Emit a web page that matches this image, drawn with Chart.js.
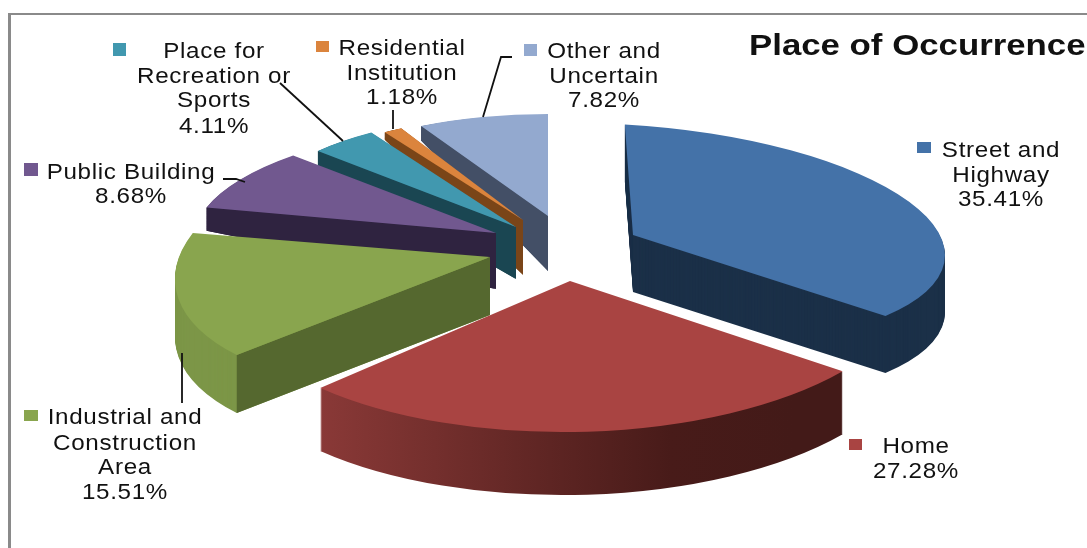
<!DOCTYPE html>
<html><head><meta charset="utf-8">
<style>html,body{margin:0;padding:0;background:#fff;overflow:hidden}canvas{display:block}</style>
<script src="https://cdn.jsdelivr.net/npm/chart.js@4"></script>
</head><body>
<canvas id="c" width="1087" height="548"></canvas>
<script>
const categories = ["Street and Highway","Home","Industrial and Construction Area","Public Building","Place for Recreation or Sports","Residential Institution","Other and Uncertain"];
const shares = [35.41,27.28,15.51,8.68,4.11,1.18,7.82];
const chartTitle = "Place of Occurrence";
const topColors  = ["#4472A8","#A94442","#89A54E","#71588F","#4198AF","#DB843D","#93A9CF"];
const rimColors  = ["#1B3048","#6E2C2B","#7C9647","#2F2340","#1A4652","#7A4518","#434F66"];
const faceColors = ["#1B3048","#6E2C2B","#55682F","#2F2340","#1A4652","#7A4518","#434F66"];

// exploded 3-D look: how each slice is placed, stretched and extruded
const sliceX      = [633,570,490,496,516,523,548];
const sliceY      = [235,281,257,233,227,220,216];
const sliceRx     = [312,346,315,302,270,258,269];
const sliceRy     = [110,151,135,110,112,104,102];
const sliceSpin   = [-1.5,0.5,7.8,5,0,0,0];
const sliceShear  = [0.065,-0.01,-0.07,-0.02,0,0,0];
const sliceDepth  = [57,63,58,56,52,55,55];
const depthShear  = [0,0,0,0.113,0.19,0.345,0.32];
const drawOrder   = [6,5,4,3,2,0,1];

const labelText = [
  ["Street and","Highway","35.41%"],["Home","27.28%"],
  ["Industrial and","Construction","Area","15.51%"],["Public Building","8.68%"],
  ["Place for","Recreation or","Sports","4.11%"],["Residential","Institution","1.18%"],
  ["Other and","Uncertain","7.82%"]
];
const labelX = [1001,916,125,131,214,402,604];
const labelBaselines = [[157,182,206],[453,478],[424,450,474,499],[179,203],[58,83,107,133],[55,80,104],[58,83,107]];
const markerBoxes = [[917,142,14,11],[849,439,13,11],[24,410,14,11],[24,163,14,13],[113,43,13,13],[316,41,13,11],[524,44,13,12]];
const leaders = [
  [[182,403],[182,353]],
  [[223,179],[236,179],[245,182]],
  [[280,83],[343,141]],
  [[393,110],[393,129]],
  [[512,57],[501,57],[483,117]]
];

const pie3d = {
  id:'pie3d',
  beforeDatasetDraw(chart){
    const {ctx} = chart;
    const arcs = chart.getDatasetMeta(0).data;
    const place = (i,arc,t) => {
      const R = arc.outerRadius;
      ctx.translate(sliceX[i], sliceY[i]+t*sliceDepth[i]);
      ctx.transform(1,sliceShear[i]+t*depthShear[i],0,1,0,0);
      ctx.scale(sliceRx[i]/R, sliceRy[i]/R);
      ctx.rotate(sliceSpin[i]*Math.PI/180);
      ctx.translate(-arc.x,-arc.y);
    };
    const corner = (i,arc,t) => {
      ctx.save(); place(i,arc,t);
      const m = ctx.getTransform();
      const a = m.transformPoint(new DOMPoint(arc.x,arc.y));
      const b = m.transformPoint(new DOMPoint(arc.x+arc.outerRadius*Math.cos(arc.startAngle),arc.y+arc.outerRadius*Math.sin(arc.startAngle)));
      ctx.restore();
      return [a,b];
    };
    drawOrder.forEach(i=>{
      const arc = arcs[i];
      const top = arc.options.backgroundColor;
      let rim = rimColors[i];
      if(i===1){
        const g = ctx.createLinearGradient(arc.x-arc.outerRadius*0.75,0,arc.x+arc.outerRadius*0.65,0);
        g.addColorStop(0,"#8C3A38"); g.addColorStop(0.5,"#5E2523"); g.addColorStop(0.75,"#481B19"); g.addColorStop(1,"#431A18");
        rim = g;
      }
      arc.options.backgroundColor = rim;
      for(let d=sliceDepth[i]; d>0; d--){
        ctx.save(); place(i,arc,d/sliceDepth[i]); arc.draw(ctx); ctx.restore();
      }
      if(i>=2){
        const [a0,b0] = corner(i,arc,0), [a1,b1] = corner(i,arc,1);
        ctx.save(); ctx.fillStyle = faceColors[i];
        ctx.beginPath(); ctx.moveTo(a0.x,a0.y); ctx.lineTo(b0.x,b0.y); ctx.lineTo(b1.x,b1.y); ctx.lineTo(a1.x,a1.y); ctx.closePath(); ctx.fill();
        ctx.restore();
      }
      arc.options.backgroundColor = top;
      ctx.save(); place(i,arc,0); arc.draw(ctx); ctx.restore();
    });
    return false;
  },
  afterDraw(chart){
    const {ctx} = chart;
    ctx.save();
    ctx.fillStyle="#8a8a8a";
    ctx.fillRect(8,13,1079,2);
    ctx.fillRect(8,13,3,535);
    ctx.strokeStyle="#111"; ctx.lineWidth=1.8;
    leaders.forEach(l=>{ctx.beginPath();l.forEach((p,k)=>k?ctx.lineTo(p[0],p[1]):ctx.moveTo(p[0],p[1]));ctx.stroke();});
    ctx.textAlign="center"; ctx.textBaseline="alphabetic";
    ctx.font='22px "Liberation Sans"';
    ctx.letterSpacing='0.6px';
    labelText.forEach((lines,i)=>{
      ctx.fillStyle="#111";
      lines.forEach((t,k)=>{
        ctx.save(); ctx.translate(labelX[i],labelBaselines[i][k]); ctx.scale(1.1,1); ctx.fillText(t,0,0); ctx.restore();
      });
      const b = markerBoxes[i];
      ctx.fillStyle=topColors[i];
      ctx.fillRect(b[0],b[1],b[2],b[3]);
    });
    ctx.fillStyle="#111";
    ctx.letterSpacing='0px';
    ctx.font='bold 30px "Liberation Sans"';
    ctx.textAlign="left";
    ctx.translate(749,55); ctx.scale(1.16,1);
    ctx.fillText(chartTitle,0,0);
    ctx.restore();
  }
};

new Chart(document.getElementById('c'),{
  type:'pie',
  data:{labels:categories,datasets:[{data:shares,backgroundColor:topColors,borderWidth:0}]},
  options:{
    responsive:false,animation:false,
    plugins:{legend:{display:false},title:{display:false,text:chartTitle},tooltip:{enabled:false}}
  },
  plugins:[pie3d]
});
</script>
</body></html>
